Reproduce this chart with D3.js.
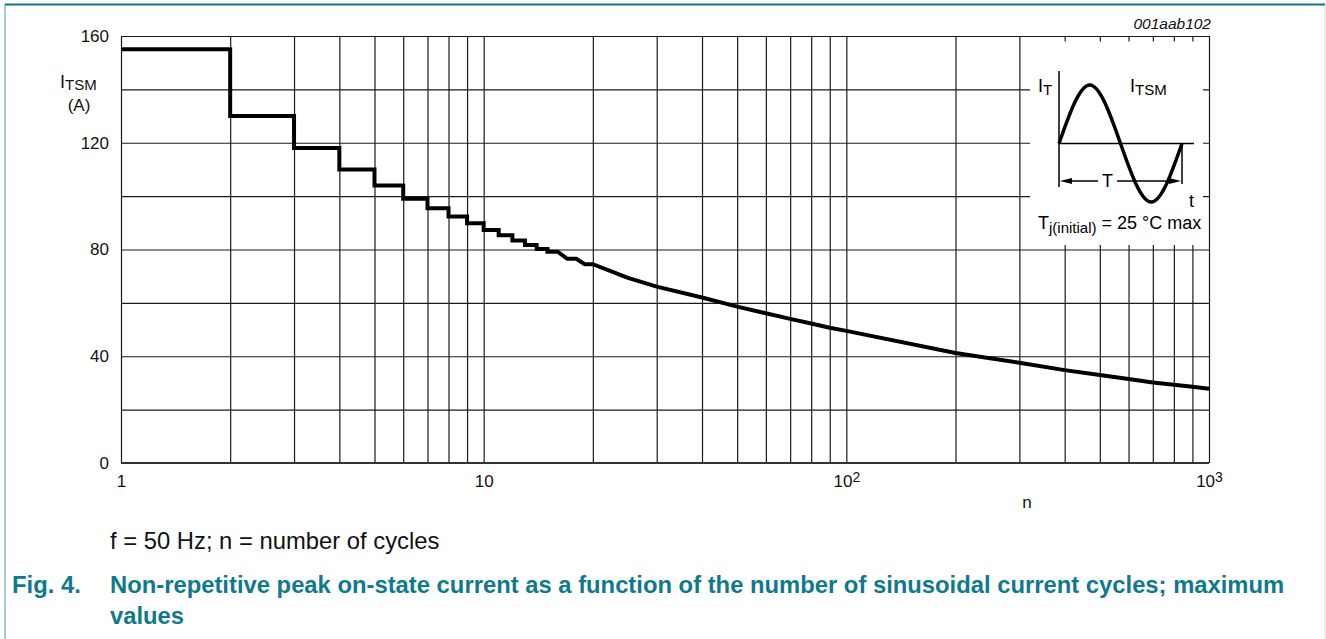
<!DOCTYPE html>
<html>
<head>
<meta charset="utf-8">
<script src="https://cdn.jsdelivr.net/npm/d3@7"></script>
<style>
  body { margin: 0; background: #fff; }
  svg { display: block; font-family: "Liberation Sans", Arial, sans-serif; }
</style>
</head>
<body>
<script>
// values: number of cycles n and I_TSM (A)
const cycles = [1, 2, 2, 3, 3, 4, 4, 5, 5, 6, 6, 7, 7, 8, 8, 9, 9, 10, 10, 11, 11, 12, 12, 13, 13, 14, 14, 15, 15, 16, 17, 18, 19, 20,
                25, 30, 40, 50, 60, 70, 80, 90, 100, 200, 300, 400, 500, 600, 700, 800, 900, 1000];
const current = [155, 155, 130, 130, 118, 118, 110, 110, 104, 104, 99, 99, 95.5, 95.5, 92.4, 92.4, 89.8, 89.8, 87.3, 87.3,
                 85.3, 85.3, 83.4, 83.4, 81.7, 81.7, 80.2, 80.2, 79.2, 79.2, 76.5, 76.5, 74.5, 74.5,
                 69.4, 66.1, 62.0, 58.6, 56.1, 54.0, 52.3, 50.7, 49.5, 41.2, 37.6, 34.8, 33.0, 31.5, 30.2, 29.3, 28.6, 27.8];

const yTicks = [0, 40, 80, 120, 160];
const yGrid = [0, 20, 40, 60, 80, 100, 120, 140, 160];
const xTicks = [1, 10, 100, 1000];
const xTickBase = ["1", "10", "10", "10"];
const xTickExp = ["", "", "2", "3"];
const xGrid = [];
[1, 10, 100].forEach(dec => { for (let k = 1; k < 10; k++) xGrid.push(dec * k); });
xGrid.push(1000);

// schematic sine for the inset (phase, relative amplitude)
const sinePhase = [0, 0.25, 0.5, 0.75, 1];
const sineAmp = [0, 1, 0, -1, 0];

const w = 1326, h = 639;
const plotLeft = 121, plotRight = 1209, plotTop = 36, plotBottom = 463;
const font = "\"Liberation Sans\", Arial, sans-serif";

const svg = d3.select("body").append("svg").attr("width", w).attr("height", h);

// page frame
svg.append("rect").attr("x", 4).attr("y", 4).attr("width", 2).attr("height", h).attr("fill", "#a9cdd8");
svg.append("rect").attr("x", 1324).attr("y", 4).attr("width", 1.5).attr("height", h).attr("fill", "#dfe8ec");
svg.append("rect").attr("x", 5).attr("y", 3.5).attr("width", 1320).attr("height", 2).attr("fill", "#0b7688");

const x = d3.scaleLog().domain([1, 1000]).range([plotLeft, plotRight]);
const y = d3.scaleLinear().domain([0, 160]).range([plotBottom, plotTop]);

// grid lines
svg.append("g")
   .attr("transform", `translate(0, ${plotBottom})`)
   .call(d3.axisBottom(x).tickValues(xGrid).tickSize(-(plotBottom - plotTop)).tickFormat(""))
   .call(g => g.select(".domain").remove())
   .call(g => g.selectAll("line").attr("stroke", "#1a1a1a").attr("stroke-width", 1.2));

svg.append("g")
   .attr("transform", `translate(${plotLeft}, 0)`)
   .call(d3.axisLeft(y).tickValues(yGrid).tickSize(-(plotRight - plotLeft)).tickFormat(""))
   .call(g => g.select(".domain").remove())
   .call(g => g.selectAll("line").attr("stroke", "#1a1a1a").attr("stroke-width", 1.2));

// bottom axis line
svg.append("line").attr("x1", plotLeft).attr("x2", plotRight).attr("y1", plotBottom).attr("y2", plotBottom)
   .attr("stroke", "#333").attr("stroke-width", 1.8);

// y labels
svg.append("g")
   .attr("transform", `translate(${plotLeft}, 0)`)
   .call(d3.axisLeft(y).tickValues(yTicks).tickSize(0).tickPadding(12))
   .call(g => g.select(".domain").remove())
   .call(g => g.selectAll("text").attr("font-family", font).attr("font-size", 17).attr("fill", "#111"));

// x labels with powers of ten
svg.append("g")
   .attr("transform", `translate(0, ${plotBottom})`)
   .call(d3.axisBottom(x).tickValues(xTicks).tickSize(0).tickPadding(12).tickFormat(""))
   .call(g => g.select(".domain").remove())
   .call(g => g.selectAll("text").each(function(d, i) {
      const t = d3.select(this).attr("font-family", font).attr("font-size", 17).attr("fill", "#111");
      t.append("tspan").text(xTickBase[i]);
      if (xTickExp[i]) t.append("tspan").attr("dy", -5).attr("font-size", 14).text(xTickExp[i]);
   }));

// axis titles
const yTitle = svg.append("text").attr("x", 60).attr("y", 88).attr("font-size", 18).attr("fill", "#111");
yTitle.append("tspan").text("I");
yTitle.append("tspan").attr("dy", 2).attr("font-size", 15).text("TSM");
svg.append("text").attr("x", 79).attr("y", 111).attr("text-anchor", "middle").attr("font-size", 17)
   .attr("fill", "#111").text("(A)");
svg.append("text").attr("x", 1027).attr("y", 508).attr("text-anchor", "middle").attr("font-size", 17)
   .attr("fill", "#111").text("n");
svg.append("text").attr("x", 1211).attr("y", 29).attr("text-anchor", "end").attr("font-size", 15.5)
   .attr("font-style", "italic").attr("fill", "#111").text("001aab102");

// curve
const line = d3.line().x(d => x(d[0])).y(d => y(d[1]));
svg.append("path")
   .datum(d3.zip(cycles, current))
   .attr("d", line)
   .attr("fill", "none")
   .attr("stroke", "#000")
   .attr("stroke-width", 4)
   .attr("stroke-linejoin", "miter");

// inset
svg.append("rect").attr("x", 1030).attr("y", 41.5).attr("width", 173).attr("height", 203.5).attr("fill", "#fff");
const sx = d3.scaleLinear().domain([0, 1]).range([1059, 1182]);
const sy = d3.scaleLinear().domain([-1, 1]).range([202, 85]);
const inset = svg.append("g");
inset.append("line").attr("x1", 1059).attr("x2", 1059).attr("y1", 71).attr("y2", 187).attr("stroke", "#000").attr("stroke-width", 1.5);
inset.append("line").attr("x1", 1059).attr("x2", 1194).attr("y1", sy(0)).attr("y2", sy(0)).attr("stroke", "#000").attr("stroke-width", 1.5);
inset.append("line").attr("x1", 1182).attr("x2", 1182).attr("y1", sy(0)).attr("y2", 184).attr("stroke", "#000").attr("stroke-width", 1.5);
inset.append("line").attr("x1", 1064).attr("x2", 1098).attr("y1", 181).attr("y2", 181).attr("stroke", "#000").attr("stroke-width", 1.5);
inset.append("line").attr("x1", 1117).attr("x2", 1177).attr("y1", 181).attr("y2", 181).attr("stroke", "#000").attr("stroke-width", 1.5);
inset.append("path").attr("d", "M1060,181 L1072,178 L1072,184 Z").attr("fill", "#000");
inset.append("path").attr("d", "M1181,181 L1169,178 L1169,184 Z").attr("fill", "#000");
inset.append("path")
   .datum(d3.zip(sinePhase, sineAmp))
   .attr("d", d3.line().x(d => sx(d[0])).y(d => sy(d[1])).curve(d3.curveNatural))
   .attr("fill", "none").attr("stroke", "#000").attr("stroke-width", 3.5);
inset.append("text").attr("x", 1107.5).attr("y", 187).attr("text-anchor", "middle").attr("font-size", 18).text("T");
inset.append("text").attr("x", 1189).attr("y", 207).attr("font-size", 18).text("t");
const it = inset.append("text").attr("x", 1038).attr("y", 92).attr("font-size", 18);
it.append("tspan").text("I");
it.append("tspan").attr("dy", 3).attr("font-size", 15).text("T");
const itsm = inset.append("text").attr("x", 1130).attr("y", 92).attr("font-size", 18);
itsm.append("tspan").text("I");
itsm.append("tspan").attr("dy", 3).attr("font-size", 15).text("TSM");
const tj = inset.append("text").attr("x", 1038).attr("y", 229).attr("font-size", 18);
tj.append("tspan").text("T");
tj.append("tspan").attr("dy", 4).attr("font-size", 15).text("j(initial)");
tj.append("tspan").attr("dy", -4).text(" = 25 °C max");

// captions
svg.append("text").attr("x", 110).attr("y", 549).attr("font-size", 23.8).attr("fill", "#111")
   .text("f = 50 Hz; n = number of cycles");
const cap = svg.append("g").attr("font-size", 23.8).attr("font-weight", "bold").attr("fill", "#10798b");
cap.append("text").attr("x", 12).attr("y", 593).text("Fig. 4.");
cap.append("text").attr("x", 110).attr("y", 593)
   .text("Non-repetitive peak on-state current as a function of the number of sinusoidal current cycles; maximum");
cap.append("text").attr("x", 110).attr("y", 624).text("values");
</script>
</body>
</html>
